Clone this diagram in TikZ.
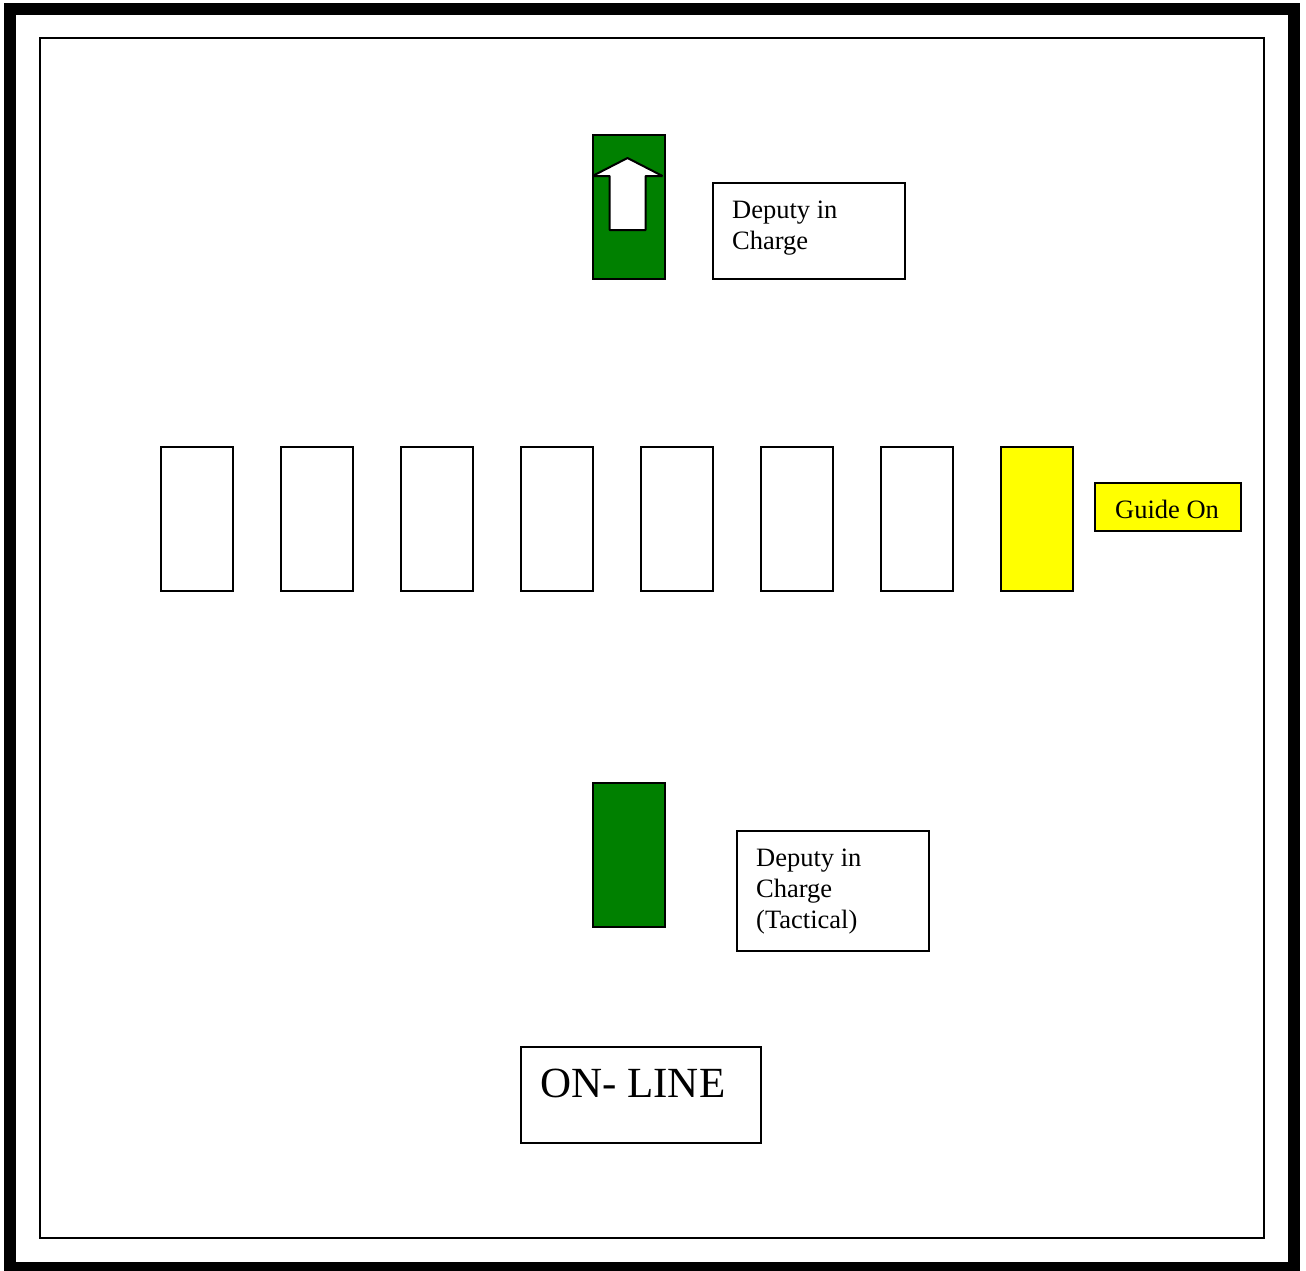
\documentclass[tikz,border=0pt]{standalone}
\usepackage{fontspec}
\setmainfont{Liberation Serif}
\definecolor{dgreen}{RGB}{0,128,0}
\definecolor{gyellow}{RGB}{255,255,0}
\tikzset{
  box/.style={draw=black, line width=2pt, inner sep=0pt, anchor=north west, rectangle},
  soldier/.style={box, minimum width=72pt, minimum height=144pt, fill=white},
  txt/.style={anchor=base west, inner sep=0pt, font=\fontsize{26.5}{31}\selectfont, align=left},
}
\begin{document}
\begin{tikzpicture}[x=1pt,y=-1pt]
\useasboundingbox (0,0) rectangle (1306,1270);
\fill[white] (0,0) rectangle (1306,1270);
% frames
\draw[line width=12pt] (10,8.5) rectangle (1294,1268);
\draw[line width=2pt] (40,38) rectangle (1264,1238);
% top green with arrow
\node[soldier, fill=dgreen] (g1) at (591.5,133.5) {};
\draw[line width=2pt, fill=white, line join=bevel]
  (627.5,158) -- (662.5,176) -- (645.5,176) -- (645.5,230) -- (609.5,230) -- (609.5,176) -- (592.5,176) -- cycle;
\node[box, minimum width=192pt, minimum height=96pt] (d1) at (711.5,181.5) {};
\node[txt] (t1a) at (732,218.5) {Deputy in};
\node[txt] (t1b) at (732,249.5) {Charge};
% row
\foreach \i/\x in {1/159.5,2/279.5,3/399.5,4/519.5,5/639.5,6/759.5,7/879.5}{
  \node[soldier] (s\i) at (\x,445.5) {};
}
\node[soldier, fill=gyellow] (s8) at (999.5,445.5) {};
\node[box, fill=gyellow, minimum width=146pt, minimum height=48pt] (gbox) at (1093.5,481.5) {};
\node[txt] (gt) at (1115,518) {Guide On};
% bottom green
\node[soldier, fill=dgreen] (g2) at (591.5,781.5) {};
\node[box, minimum width=192pt, minimum height=120pt] (d2) at (735.5,829.5) {};
\node[txt] (t2a) at (756,866.5) {Deputy in};
\node[txt] (t2b) at (756,897.5) {Charge};
\node[txt] (t2c) at (756,928.5) {(Tactical)};
% title
\node[box, minimum width=240pt, minimum height=96pt] (ob) at (519.5,1045.5) {};
\node[txt, font=\fontsize{43}{50}\selectfont] (ot) at (540,1097) {ON- LINE};
\end{tikzpicture}
\end{document}
